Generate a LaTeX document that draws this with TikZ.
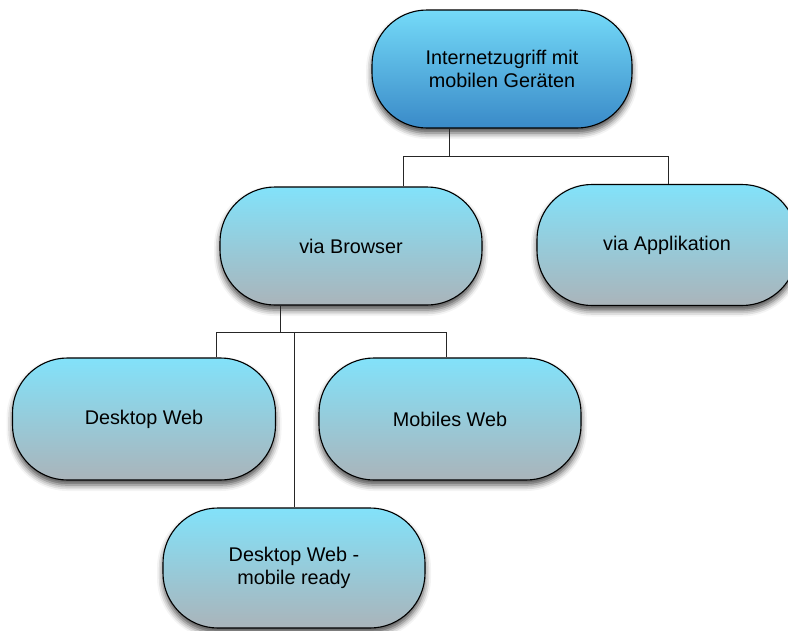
\documentclass[tikz,border=0pt]{standalone}
\usepackage{fontspec}
\setmainfont{Liberation Sans}
\usetikzlibrary{shadows.blur}
\definecolor{lighttop}{RGB}{130,226,250}
\definecolor{lightbot}{RGB}{170,180,186}
\definecolor{roottop}{RGB}{116,218,248}
\definecolor{rootbot}{RGB}{58,138,200}
\begin{document}
\begin{tikzpicture}[x=1pt,y=-1pt,
  box/.style={rectangle, rounded corners=55pt, draw=black, line width=1.1pt,
    minimum width=262pt, minimum height=121pt,
    top color=lighttop, bottom color=lightbot, align=center,
    font=\fontsize{19.8}{23.5}\selectfont,
    blur shadow={shadow xshift=0pt, shadow yshift=-5pt,
      shadow blur radius=6pt, shadow opacity=70}},
  rootbox/.style={box, top color=roottop, bottom color=rootbot},
  link/.style={draw=black!85, line width=1pt}]
\useasboundingbox (0,0) rectangle (788,630);

% boxes
\node[rootbox, minimum width=260pt, minimum height=118pt] (root) at (502,69)
  {Internetzugriff mit\\mobilen Geräten};
\node[box, minimum height=118pt] (browser) at (351,246) {via Browser};
\node[box, minimum width=260pt] (app) at (667,245) {via Applikation};
\node[box, minimum width=263pt, minimum height=122pt] (desk) at (144,419) {Desktop Web};
\node[box, minimum height=122pt] (mob) at (450,419) {Mobiles Web};
\node[box, minimum height=120pt] (ready) at (294,568) {Desktop Web -\\mobile ready};

% junction points of the tree
\coordinate (j1) at (449,156);
\coordinate (b1) at (403,156);
\coordinate (a1) at (668,156);
\coordinate (j2) at (280,332);
\coordinate (d1) at (216,332);
\coordinate (m1) at (446,332);
\coordinate (r1) at (294,332);

% connectors
\draw[link] (root.south -| j1) -- (j1);
\draw[link] (browser.north -| b1) -- (b1) -- (a1) -- (app.north -| a1);
\draw[link] (browser.south -| j2) -- (j2);
\draw[link] (desk.north -| d1) -- (d1) -- (m1) -- (mob.north -| m1);
\draw[link] (r1) -- (ready.north -| r1);
\end{tikzpicture}
\end{document}
